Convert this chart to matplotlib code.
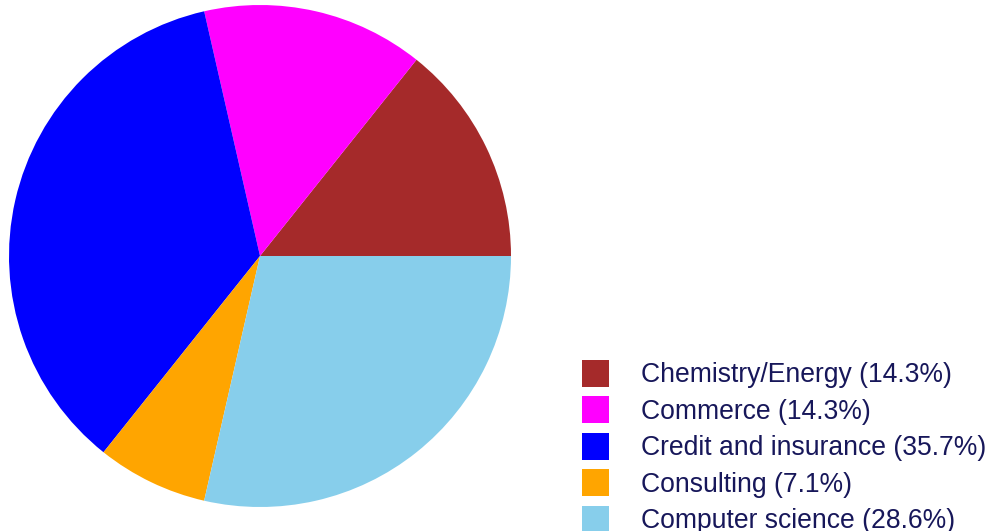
import matplotlib.pyplot as plt

plt.rcParams['font.family'] = ['Liberation Sans', 'DejaVu Sans']

# data
sectors = ["Chemistry/Energy", "Commerce", "Credit and insurance", "Consulting", "Computer science"]
counts = [2, 2, 5, 1, 4]
colors = ["#a52a2a", "#ff00ff", "#0000ff", "#ffa500", "#87ceeb"]

TEXT_COLOR = "#17175a"
W, H = 989, 531

fig = plt.figure(figsize=(W / 100, H / 100), dpi=100)

# pie centred at (260, 256) px, radius ~251 px
cx, cy, r = 260, 256, 251
ax = fig.add_axes([(cx - r) / W, (H - cy - r) / H, 2 * r / W, 2 * r / H])
wedges, _ = ax.pie(counts, colors=colors, startangle=0, counterclock=True,
                   radius=1, wedgeprops=dict(linewidth=0))
ax.set_xlim(-1, 1)
ax.set_ylim(-1, 1)
ax.set_aspect('equal')
ax.axis('off')

total = sum(counts)
labels = [f"{s} ({100 * c / total:.1f}%)" for s, c in zip(sectors, counts)]

fs = 19.1
leg = fig.legend(wedges, labels, loc='lower left',
                 bbox_to_anchor=(582 / W, -3 / H), frameon=False,
                 fontsize=fs, handlelength=1.02, handleheight=1.19,
                 handletextpad=1.2, labelspacing=0.3, borderpad=0,
                 borderaxespad=0)
for t in leg.get_texts():
    t.set_color(TEXT_COLOR)

fig.savefig("out.png", dpi=100)
